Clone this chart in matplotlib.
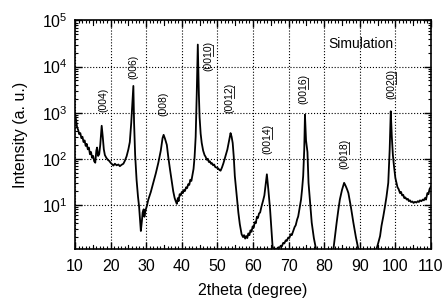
import matplotlib
matplotlib.use("Agg")
import matplotlib.pyplot as plt
from matplotlib.lines import Line2D
from matplotlib.ticker import MultipleLocator, LogLocator, NullFormatter

plt.rcParams['font.family'] = ['Liberation Sans', 'DejaVu Sans']
plt.rcParams['mathtext.fontset'] = 'custom'
plt.rcParams['mathtext.rm'] = 'Liberation Sans'
plt.rcParams['mathtext.it'] = 'Liberation Sans'

# simulated XRD pattern
two_theta = [
    10.0, 10.3, 10.6, 10.9, 11.2, 11.5, 11.8, 12.1, 12.4, 12.7, 13.0, 13.3, 13.6, 13.9,
    14.2, 14.5, 14.8, 15.1, 15.4, 15.7, 16.0, 16.2, 16.5, 16.8, 17.1, 17.5, 17.8, 18.1,
    18.4, 18.8, 19.2, 19.6, 20.0, 20.4, 20.8, 21.2, 21.7, 22.2, 22.6, 23.1, 23.6, 24.0,
    24.5, 25.0, 25.4, 25.8, 26.1, 26.4, 26.6, 26.9, 27.3, 27.7, 28.0, 28.3, 28.5, 28.8,
    29.0, 29.3, 29.5, 29.8, 30.2, 30.6, 31.3, 32.0, 32.7, 33.4, 34.1, 34.6, 34.9, 35.3,
    35.8, 36.2, 36.7, 37.2, 37.6, 38.0, 38.3, 38.6, 38.9, 39.1, 39.4, 39.7, 40.0, 40.3,
    40.6, 40.9, 41.2, 41.5, 41.8, 42.1, 42.4, 42.7, 43.0, 43.3, 43.6, 43.9, 44.2, 44.5,
    44.8, 45.0, 45.3, 45.6, 46.0, 46.4, 46.7, 47.0, 47.3, 47.6, 47.9, 48.2, 48.5, 48.8,
    49.1, 49.4, 49.8, 50.2, 50.6, 50.9, 51.3, 51.7, 52.2, 52.8, 53.3, 53.7, 54.0, 54.3,
    54.6, 54.9, 55.4, 55.9, 56.3, 56.8, 57.2, 57.5, 57.8, 58.1, 58.4, 58.7, 59.0, 59.3,
    59.6, 59.9, 60.2, 60.5, 60.8, 61.1, 61.4, 61.7, 62.0, 62.4, 62.8, 63.2, 63.5, 63.9,
    64.3, 64.8, 65.2, 65.5, 65.8, 66.2, 66.6, 67.0, 67.4, 67.8, 68.1, 68.5, 68.8, 69.2,
    69.5, 69.9, 70.2, 70.6, 70.9, 71.3, 71.7, 72.0, 72.4, 72.7, 73.1, 73.5, 73.8, 74.1,
    74.4, 74.6, 74.9, 75.3, 75.6, 76.0, 76.5, 77.1, 77.7, 78.5, 82.0, 82.6, 83.0, 83.5,
    84.0, 84.4, 85.0, 85.6, 85.9, 86.2, 86.5, 86.8, 87.5, 88.2, 88.9, 89.6, 90.5, 94.0,
    94.7, 95.2, 95.7, 96.1, 96.6, 97.0, 97.5, 98.0, 98.4, 98.7, 99.0, 99.3, 99.6, 100.0,
    100.3, 100.6, 100.9, 101.3, 101.6, 101.9, 102.2, 102.5, 102.8, 103.2, 103.5, 103.8,
    104.1, 104.4, 104.8, 105.1, 105.5, 105.9, 106.3, 106.6, 106.9, 107.3, 107.7, 108.0,
    108.3, 108.6, 109.0, 109.3, 109.6, 110.0]
intensity = [
    1000, 700, 480, 420, 340, 360, 280, 300, 230, 250, 190, 210, 160, 175,
    125, 140, 105, 115, 88, 82, 150, 175, 115, 125, 200, 520, 300, 160,
    120, 105, 95, 90, 82, 76, 71, 78, 72, 75, 69, 74, 78, 90,
    113, 160, 230, 600, 1500, 3800, 600, 120, 35, 15, 9.3, 4.5, 2.7, 4.5,
    6.8, 8, 5.5, 7.5, 9.5, 13, 19, 30, 48, 81, 150, 280, 330, 270,
    200, 110, 58, 32, 19.6, 14, 12, 10.5, 14, 12, 17, 16, 19, 18,
    21, 20, 24, 23, 28, 27, 35, 33, 45, 60, 110, 300, 2500, 30000,
    2500, 800, 350, 220, 150, 120, 110, 95, 100, 85, 88, 78, 80, 72,
    75, 66, 64, 62, 57, 55, 65, 80, 110, 158, 250, 360, 300, 220,
    110, 42, 17, 6.7, 3.8, 2.3, 2.0, 2.2, 1.85, 2.1, 1.9, 2.4, 2.2, 2.8,
    2.6, 3.4, 3.2, 4.2, 4.0, 5.5, 5.2, 6.5, 6.8, 9.3, 12, 16, 25, 46,
    22, 8, 2.8, 1.26, 1.05, 1.12, 1.08, 1.18, 1.15, 1.3, 1.25, 1.5, 1.45, 1.7,
    1.65, 1.95, 1.9, 2.3, 2.2, 2.7, 3.3, 3.6, 4.8, 5.6, 8.5, 13, 22, 42,
    160, 900, 250, 140, 30, 12, 4.1, 1.9, 1.1, 0.5, 0.5, 1.1, 2.0, 4.1,
    8, 13, 21, 30, 27, 24, 21, 18, 9, 4.1, 2.0, 1.1, 0.5, 0.5,
    1.1, 1.5, 2.1, 3.5, 5.6, 8.5, 15, 30, 160, 1070, 300, 120, 70, 38,
    30, 24, 22, 18, 19, 16, 16.5, 14, 14.5, 13, 13.5, 12,
    12.5, 11.5, 11.8, 11, 11.6, 11.2, 12, 11.5, 12.5, 12, 13, 12.5,
    14, 13, 18, 17, 22, 25]

# peak labels: (00l), the two-digit l is underlined
peak_index = ['4', '6', '8', '10', '12', '14', '16', '18', '20']
label_x = [17.9, 26.3, 34.9, 47.6, 53.5, 64.1, 74.2, 85.8, 98.9]
label_y = [1900, 10000, 1540, 16600, 2100, 275, 3200, 128, 4250]

fig = plt.figure(figsize=(4.45, 3.0), dpi=100)
ax = fig.add_axes([0.1685, 0.17, 0.80, 0.7617])

ax.plot(two_theta, intensity, color='black', lw=1.3)
ax.set_yscale('log')
ax.set_xlim(10, 110)
ax.set_ylim(1.1, 1e5)

ax.xaxis.set_major_locator(MultipleLocator(10))
ax.xaxis.set_minor_locator(MultipleLocator(1))
ax.yaxis.set_major_locator(LogLocator(base=10, numticks=10))
ax.yaxis.set_minor_locator(LogLocator(base=10, subs=range(2, 10), numticks=20))
ax.yaxis.set_minor_formatter(NullFormatter())

ax.tick_params(which='both', direction='in', top=True, right=True, labelsize=11.5)
ax.tick_params(which='major', length=5, width=1)
ax.tick_params(which='minor', length=2.5, width=0.8)
ax.tick_params(axis='x', which='major', pad=7.5)
ax.tick_params(axis='y', which='major', pad=5.5)
for s in ax.spines.values():
    s.set_linewidth(1.2)
ax.grid(True, which='major', ls=':', lw=0.8, color='black')

# medium ticks at the fives
for xv in range(15, 110, 10):
    ax.plot([xv, xv], [1.1, 1.1 * 10 ** 0.09], color='black', lw=0.8)
    ax.plot([xv, xv], [1e5 / 10 ** 0.09, 1e5], color='black', lw=0.8)

texts = []
for idx, xv, yv in zip(peak_index, label_x, label_y):
    t = ax.text(xv, yv, '(00' + idx + ')', rotation=90, ha='center', va='center', fontsize=7.5)
    texts.append(t)

ax.text(90.2, 10 ** 4.49, 'Simulation', ha='center', va='center', fontsize=10)

ax.set_xlabel('2theta (degree)', fontsize=11.5, labelpad=6)
ax.set_ylabel('Intensity (a. u.)', fontsize=11.5, labelpad=10)

# underline the two-digit indices (text runs bottom to top)
fig.canvas.draw()
r = fig.canvas.get_renderer()
inv = fig.transFigure.inverted()
for t, idx in zip(texts, peak_index):
    if len(idx) < 2:
        continue
    bb = t.get_window_extent(r)
    prop = t.get_fontproperties()
    w_all = r.get_text_width_height_descent(t.get_text(), prop, ismath=False)[0]
    w_pre = r.get_text_width_height_descent('(00', prop, ismath=False)[0]
    w_num = r.get_text_width_height_descent('(00' + idx, prop, ismath=False)[0]
    start = bb.y0 + (bb.height - w_all) / 2
    xl = bb.x1 - 0.7
    p0 = inv.transform((xl, start + w_pre))
    p1 = inv.transform((xl, start + w_num))
    fig.add_artist(Line2D([p0[0], p1[0]], [p0[1], p1[1]], color='black', lw=0.6))

fig.savefig('out.png', dpi=100)
